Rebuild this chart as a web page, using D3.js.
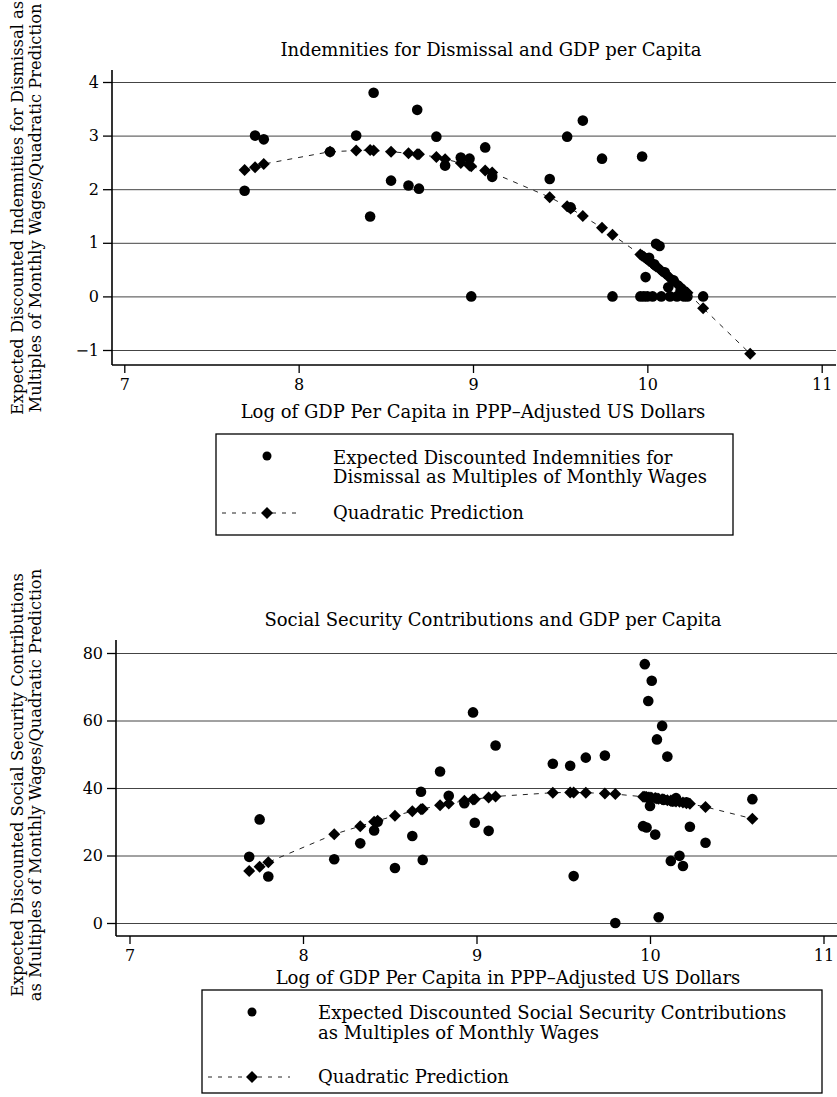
<!DOCTYPE html>
<html><head><meta charset="utf-8">
<script src="https://cdn.jsdelivr.net/npm/d3@7"></script>
<style>
body{margin:0;background:#fff}
svg{display:block}
text{font-family:"DejaVu Serif",serif;fill:#000}
</style>
</head><body>
<svg id="c" width="837" height="1097"></svg>
<script>
// ---------- DATA ----------
const gdp = [7.69,7.75,7.80,8.18,8.33,8.41,8.43,8.53,8.63,8.68,8.69,8.79,8.84,8.93,8.98,8.99,9.07,9.11,9.44,9.54,9.56,9.63,9.74,9.80,
  9.96,9.97,9.98,9.99,10.00,10.01,10.03,10.04,10.05,10.07,10.08,10.10,10.12,10.13,10.15,10.17,10.19,10.21,10.23,10.32,10.59];

const indemnity = [1.97,3.00,2.93,2.70,3.00,1.49,3.80,2.16,2.07,3.48,2.01,2.98,2.44,2.59,2.57,0,2.78,2.23,2.19,2.98,1.66,3.28,2.57,0,
  0,2.61,0,0.36,0,0.72,0,0.60,0.98,0.94,0,0.45,0.17,0,0.30,0,0.10,0,0,0,null];
const indemnityFit = [2.36,2.41,2.47,2.70,2.72,2.73,2.72,2.70,2.67,2.65,2.65,2.60,2.56,2.49,2.44,2.43,2.35,2.31,1.85,1.68,1.64,1.50,1.28,1.15,
  0.78,0.76,0.74,0.71,0.69,0.66,0.61,0.58,0.56,0.51,0.48,0.43,0.37,0.35,0.29,0.23,0.18,0.12,0.07,-0.22,-1.07];

const socialSec = [19.6,30.7,13.8,18.9,23.6,27.4,30.0,16.3,25.8,38.9,18.7,44.9,37.7,35.5,62.4,29.7,27.3,52.6,47.2,46.6,13.9,49.0,49.6,0,
  28.7,76.7,28.3,65.8,34.7,71.8,26.2,54.4,1.7,58.4,36.5,49.3,18.4,36.0,37.0,19.9,16.9,35.8,28.5,23.8,36.7];
const socialSecFit = [15.4,16.7,18.0,26.3,28.7,30.0,30.3,31.8,33.1,33.7,33.8,34.9,35.4,36.2,36.6,36.7,37.2,37.5,38.6,38.7,38.7,38.6,38.4,38.2,
  37.4,37.4,37.3,37.2,37.2,37.1,37.0,36.9,36.8,36.7,36.6,36.4,36.3,36.2,36.0,35.9,35.7,35.5,35.3,34.4,30.9];

const xTicks = [7,8,9,10,11];
const yTicksTop = [-1,0,1,2,3,4];
const yTicksBottom = [0,20,40,60,80];

const titles = ["Indemnities for Dismissal and GDP per Capita","Social Security Contributions and GDP per Capita"];
const xTitle = "Log of GDP Per Capita in PPP\u2013Adjusted US Dollars";
const yTitleTop = ["Expected Discounted Indemnities for Dismissal as","Multiples of Monthly Wages/Quadratic Prediction"];
const yTitleBottom = ["Expected Discounted Social Security Contributions","as Multiples of Monthly Wages/Quadratic Prediction"];
const legendTop = ["Expected Discounted Indemnities for","Dismissal as Multiples of Monthly Wages","Quadratic Prediction"];
const legendBottom = ["Expected Discounted Social Security Contributions","as Multiples of Monthly Wages","Quadratic Prediction"];

// ---------- DRAW ----------
const svg = d3.select('#c');
const FS = 18;
const FSY = 16.3;
const diamond = d3.symbol().type(d3.symbolSquare).size(72);

function panel(o){
  const x = d3.scaleLinear().domain([7,11]).range(o.xr);
  const y = d3.scaleLinear().domain(o.yd).range(o.yr);
  const g = svg.append('g');

  // gridlines
  g.append('g').attr('transform',`translate(${o.left},0)`)
    .call(d3.axisRight(y).tickValues(o.yTicks).tickSize(o.right-o.left).tickFormat(''))
    .call(s=>{s.select('.domain').remove(); s.selectAll('line').attr('stroke','#444').attr('stroke-width',1);});

  // y axis ticks + labels
  g.append('g').attr('transform',`translate(${o.left},0)`)
    .call(d3.axisLeft(y).tickValues(o.yTicks).tickSize(9).tickPadding(4)
      .tickFormat(d=> d<0 ? '\u2212'+(-d) : String(d)))
    .call(s=>{s.select('.domain').remove();
      s.selectAll('line').attr('stroke','#000').attr('stroke-width',1.3);
      s.selectAll('text').attr('font-family','DejaVu Serif').attr('font-size',16).attr('fill','#000');});

  // x axis ticks + labels
  g.append('g').attr('transform',`translate(0,${o.bottom})`)
    .call(d3.axisBottom(x).tickValues(xTicks).tickSize(8).tickPadding(6).tickFormat(d3.format('d')))
    .call(s=>{s.select('.domain').remove();
      s.selectAll('line').attr('stroke','#000').attr('stroke-width',1.3);
      s.selectAll('text').attr('font-family','DejaVu Serif').attr('font-size',16).attr('fill','#000');});

  // axis lines
  g.append('line').attr('x1',o.left).attr('x2',o.left).attr('y1',o.top).attr('y2',o.bottom)
    .attr('stroke','#000').attr('stroke-width',1.6);
  g.append('line').attr('x1',o.left).attr('x2',o.right).attr('y1',o.bottom).attr('y2',o.bottom)
    .attr('stroke','#000').attr('stroke-width',1.6);

  // data points
  const pts = gdp.map((v,i)=>({x:v, y:o.obs[i], f:o.fit[i]}));
  g.append('g').selectAll('circle').data(pts.filter(d=>d.y!=null)).join('circle')
    .attr('cx',d=>x(d.x)).attr('cy',d=>y(d.y)).attr('r',5.3).attr('fill','#000');

  // fit line
  g.append('path').datum(pts).attr('fill','none').attr('stroke','#222').attr('stroke-width',1)
    .attr('stroke-dasharray','5,6')
    .attr('d', d3.line().x(d=>x(d.x)).y(d=>y(d.f)));
  g.append('g').selectAll('path').data(pts).join('path')
    .attr('d', diamond).attr('fill','#000')
    .attr('transform', d=>`translate(${x(d.x)},${y(d.f)}) rotate(45)`);

  // title
  g.append('text').attr('x',o.titleX).attr('y',o.titleY).attr('text-anchor','middle')
    .attr('font-size',FS).text(o.title);
  // x title
  g.append('text').attr('x',o.xTitleX).attr('y',o.xTitleY).attr('text-anchor','middle')
    .attr('font-size',FS).text(xTitle);
  // y title
  o.yTitle.forEach((t,i)=>{
    g.append('text').attr('transform',`translate(${o.yTitleX[i]},${o.yTitleY}) rotate(-90)`)
      .attr('text-anchor','middle').attr('dy','0.35em').attr('font-size',FSY).text(t);
  });

  // legend
  const L = o.legend;
  g.append('rect').attr('x',L.x).attr('y',L.y).attr('width',L.w).attr('height',L.h)
    .attr('fill','none').attr('stroke','#000').attr('stroke-width',1.3);
  g.append('circle').attr('cx',L.mx).attr('cy',L.dotY).attr('r',4.5).attr('fill','#000');
  g.append('line').attr('x1',L.dash[0]).attr('x2',L.dash[1]).attr('y1',L.quadY).attr('y2',L.quadY)
    .attr('stroke','#222').attr('stroke-width',1).attr('stroke-dasharray','4,6');
  g.append('path').attr('d',diamond).attr('fill','#000')
    .attr('transform',`translate(${L.mx},${L.quadY}) rotate(45)`);
  [L.lines[0],L.lines[1]].forEach((t,i)=>{
    g.append('text').attr('x',L.tx).attr('y',L.textY[i]).attr('dy','0.35em').attr('font-size',FS).text(t);
  });
  g.append('text').attr('x',L.tx).attr('y',L.quadY).attr('dy','0.35em').attr('font-size',FS).text(L.lines[2]);
}

panel({
  left:112, right:836, top:70, bottom:365,
  xr:[124.3,821.7], yd:[-1,4], yr:[350,82], yTicks:yTicksTop,
  obs:indemnity, fit:indemnityFit,
  title:titles[0], titleX:491, titleY:56,
  xTitleX:473, xTitleY:418,
  yTitle:yTitleTop, yTitleX:[17,35], yTitleY:208,
  legend:{x:216,y:434,w:517,h:101, mx:267, dotY:456, tx:333, textY:[458,477], quadY:513, dash:[222,302], lines:legendTop}
});
panel({
  left:116, right:837, top:640, bottom:936,
  xr:[129.5,823.5], yd:[0,80], yr:[923,653], yTicks:yTicksBottom,
  obs:socialSec, fit:socialSecFit,
  title:titles[1], titleX:493, titleY:626,
  xTitleX:508, xTitleY:984,
  yTitle:yTitleBottom, yTitleX:[17,35], yTitleY:785,
  legend:{x:202,y:990,w:620,h:103, mx:252, dotY:1012, tx:318, textY:[1013,1033], quadY:1077, dash:[208,290], lines:legendBottom}
});
</script>
</body></html>
